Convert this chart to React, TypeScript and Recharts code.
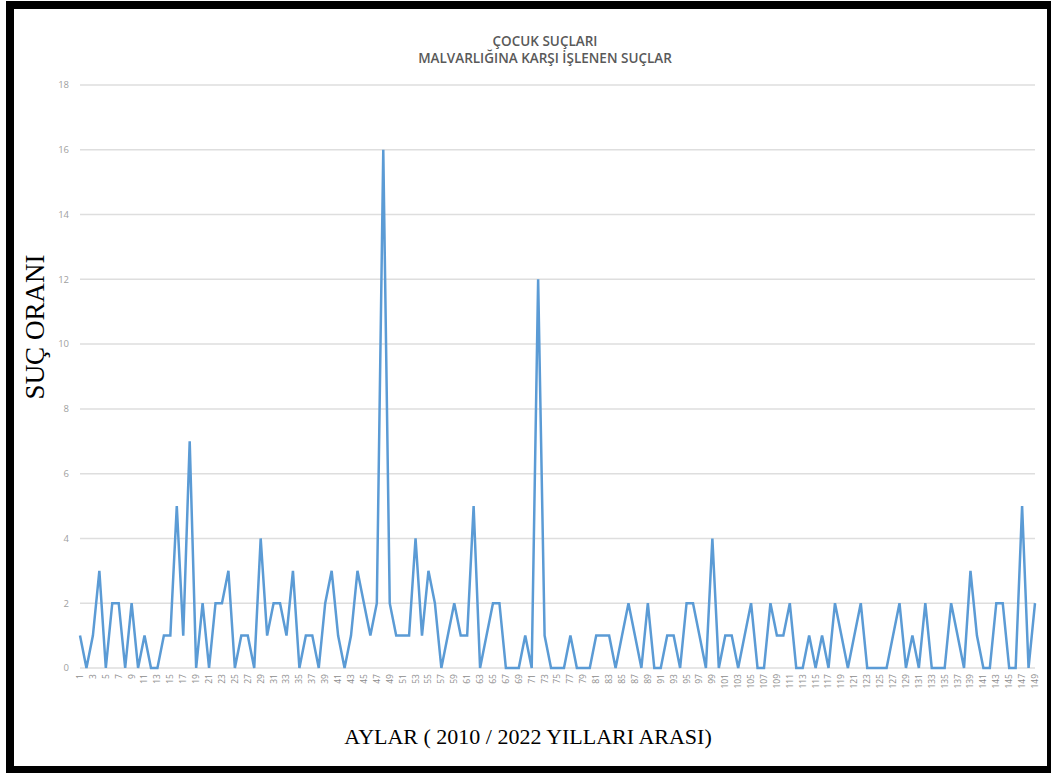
import { LineChart, Line, XAxis, YAxis, CartesianGrid } from "recharts";

// Monthly counts, months 1..149 (2010 – 2022)
const crimeCounts = [
  1, 0, 1, 3, 0, 2, 2, 0, 2, 0, 1, 0, 0, 1, 1, 5, 1, 7, 0, 2, 0, 2, 2, 3, 0,
  1, 1, 0, 4, 1, 2, 2, 1, 3, 0, 1, 1, 0, 2, 3, 1, 0, 1, 3, 2, 1, 2, 16, 2, 1,
  1, 1, 4, 1, 3, 2, 0, 1, 2, 1, 1, 5, 0, 1, 2, 2, 0, 0, 0, 1, 0, 12, 1, 0, 0,
  0, 1, 0, 0, 0, 1, 1, 1, 0, 1, 2, 1, 0, 2, 0, 0, 1, 1, 0, 2, 2, 1, 0, 4, 0,
  1, 1, 0, 1, 2, 0, 0, 2, 1, 1, 2, 0, 0, 1, 0, 1, 0, 2, 1, 0, 1, 2, 0, 0, 0,
  0, 1, 2, 0, 1, 0, 2, 0, 0, 0, 2, 1, 0, 3, 1, 0, 0, 2, 2, 0, 0, 5, 0, 2,
];
const months = crimeCounts.map((_, i) => i + 1);
const yTicks = [0, 2, 4, 6, 8, 10, 12, 14, 16, 18];

const titleLines = ["ÇOCUK SUÇLARI", "MALVARLIĞINA KARŞI İŞLENEN SUÇLAR"];
const yAxisTitle = "SUÇ ORANI";
const xAxisTitle = "AYLAR ( 2010 / 2022 YILLARI ARASI)";

const data = months.map((m, i) => ({ month: m, value: crimeCounts[i] }));

// rotated month labels, read bottom-to-top
function MonthTick({ x, y, payload }: any) {
  return (
    <text
      x={x}
      y={y}
      dy="0.35em"
      textAnchor="end"
      transform={`rotate(-90, ${x}, ${y})`}
      fontSize={8.5}
      fill="#8c8c8c"
      fontFamily="'Open Sans', sans-serif"
    >
      {payload.value}
    </text>
  );
}

export default function App() {
  return (
    <div
      style={{
        position: "fixed",
        left: 0,
        top: 0,
        width: 1051,
        height: 773,
        background: "#fff",
        overflow: "hidden",
      }}
    >
      {/* black frame */}
      <div
        style={{
          position: "absolute",
          left: 6,
          top: 1,
          width: 1049,
          height: 773,
          border: "8px solid #000",
          boxSizing: "border-box",
        }}
      />

      {/* title */}
      <div
        style={{
          position: "absolute",
          left: 0,
          width: 1090,
          top: 33,
          textAlign: "center",
          fontFamily: "'Open Sans', sans-serif",
          fontWeight: 600,
          fontSize: 13.5,
          lineHeight: "17px",
          color: "#595959",
        }}
      >
        {titleLines.map((t) => (
          <div key={t}>{t}</div>
        ))}
      </div>

      <div style={{ position: "absolute", left: 0, top: 0 }}>
        <LineChart
          width={1051}
          height={773}
          data={data}
          margin={{ top: 85, right: 16, left: 0, bottom: 75 }}
        >
          <CartesianGrid vertical={false} stroke="#dedede" strokeWidth={1.5} />
          <XAxis
            dataKey="month"
            interval={1}
            tickSize={0}
            tickMargin={6}
            axisLine={false}
            tick={<MonthTick />}
            height={30}
          />
          <YAxis
            domain={[0, 18]}
            ticks={yTicks}
            width={80}
            tickSize={0}
            tickMargin={11}
            axisLine={false}
            tickLine={false}
            tick={{ fontSize: 9.5, fill: "#a0a0a0", fontFamily: "'Open Sans', sans-serif" }}
          />
          <Line
            type="linear"
            dataKey="value"
            stroke="#5b9bd5"
            strokeWidth={2.5}
            dot={false}
            isAnimationActive={false}
          />
        </LineChart>
      </div>

      {/* y axis title */}
      <div
        style={{
          position: "absolute",
          left: 35,
          top: 327,
          transform: "translate(-50%, -50%) rotate(-90deg)",
          whiteSpace: "nowrap",
          fontFamily: "'Liberation Serif', serif",
          fontSize: 27,
          color: "#000",
        }}
      >
        {yAxisTitle}
      </div>

      {/* x axis title */}
      <div
        style={{
          position: "absolute",
          left: 528,
          top: 737,
          transform: "translate(-50%, -50%)",
          whiteSpace: "nowrap",
          fontFamily: "'Liberation Serif', serif",
          fontSize: 22,
          color: "#000",
        }}
      >
        {xAxisTitle}
      </div>
    </div>
  );
}
